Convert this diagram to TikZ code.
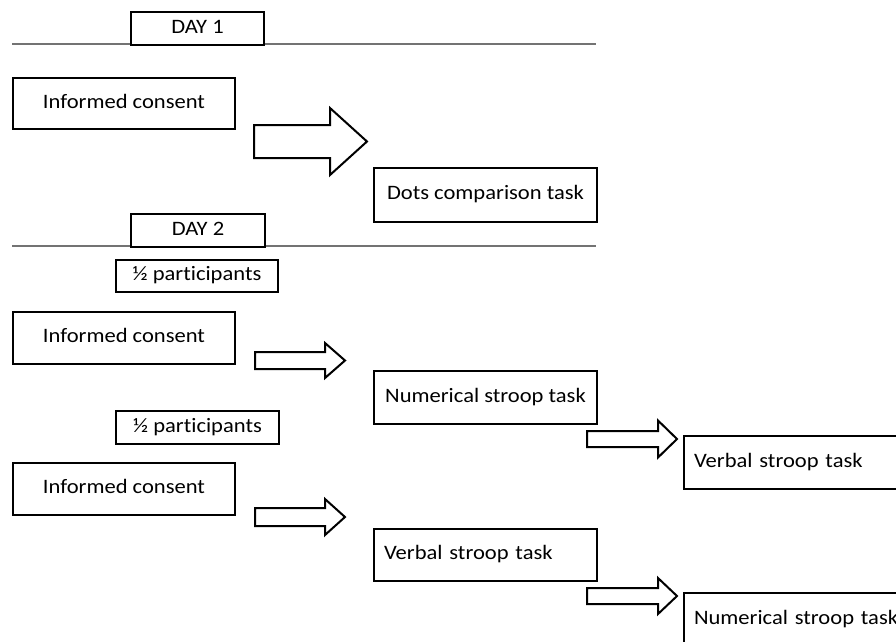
\documentclass[tikz,border=0pt]{standalone}
\usepackage{fontspec}
\setmainfont{Carlito}[FakeStretch=1.1, Ligatures={NoCommon}]
\newcommand\blockarr[7]{% name, x0, yc, xb, xt, shaft half, head half
  \draw[blockarrow] (#2,{#3-#6}) -- (#4,{#3-#6}) -- (#4,{#3-#7}) -- (#5,#3)
    -- (#4,{#3+#7}) -- (#4,{#3+#6}) -- (#2,{#3+#6}) -- cycle;
  \coordinate (#1) at (#5,#3);}
\begin{document}
\begin{tikzpicture}[x=1pt,y=-1pt,
  box/.style={draw=black, line width=2pt, fill=white, inner sep=0pt,
    anchor=north west, text height=15pt, text depth=6pt,
    font=\fontsize{20.5}{24}\selectfont},
  lbox/.style={align=left, inner xsep=10pt},
  dayline/.style={draw=black!55, line width=1.2pt},
  blockarrow/.style={draw=black, line width=2pt, fill=white, line join=miter}]
\useasboundingbox (0,0) rectangle (896,641);
\clip (0,0) rectangle (896,641);
% day separator lines
\coordinate (l1a) at (12,44);  \coordinate (l1b) at (596,44);
\coordinate (l2a) at (12,246); \coordinate (l2b) at (596,246);
\draw[dayline] (l1a) -- (l1b);
\draw[dayline] (l2a) -- (l2b);
% DAY 1
\node[box, minimum width=133, minimum height=33] (day1) at (130,11) {DAY 1};
\node[box, minimum width=222, minimum height=51] (ic1) at (12,77) {Informed consent\hspace{6pt}};
\node[box, minimum width=223, minimum height=54] (dots) at (373,167) {Dots comparison task};
\blockarr{a1}{254}{141.5}{330}{367}{16.5}{33.5}
% DAY 2
\node[box, minimum width=134, minimum height=33] (day2) at (130,213) {DAY 2};
\node[box, minimum width=162, minimum height=32] (half1) at (115,259) {\textonehalf{} participants};
\node[box, minimum width=222, minimum height=52] (ic2) at (12,311) {Informed consent\hspace{6pt}};
\node[box, minimum width=223, minimum height=53] (num1) at (373,370) {Numerical stroop task};
\blockarr{a2}{255}{360.5}{325}{345}{8.5}{17.5}
\node[box, minimum width=163, minimum height=33] (half2) at (115,410) {\textonehalf{} participants};
\blockarr{a3}{587}{439}{658}{677}{8}{18.5}
\node[box, lbox, text width=207pt, minimum height=53] (verb1) at (683,435) {Verbal stroop task};
\node[box, minimum width=222, minimum height=52] (ic3) at (12,462) {Informed consent\hspace{6pt}};
\blockarr{a4}{255}{517}{325}{345}{9}{18}
\node[box, lbox, text width=203pt, minimum height=52] (verb2) at (373,528) {Verbal stroop task};
\blockarr{a5}{587}{596}{658}{677}{8}{18}
\node[box, lbox, text width=207pt, minimum height=53] (num2) at (683,592) {Numerical stroop task};
\end{tikzpicture}
\end{document}
